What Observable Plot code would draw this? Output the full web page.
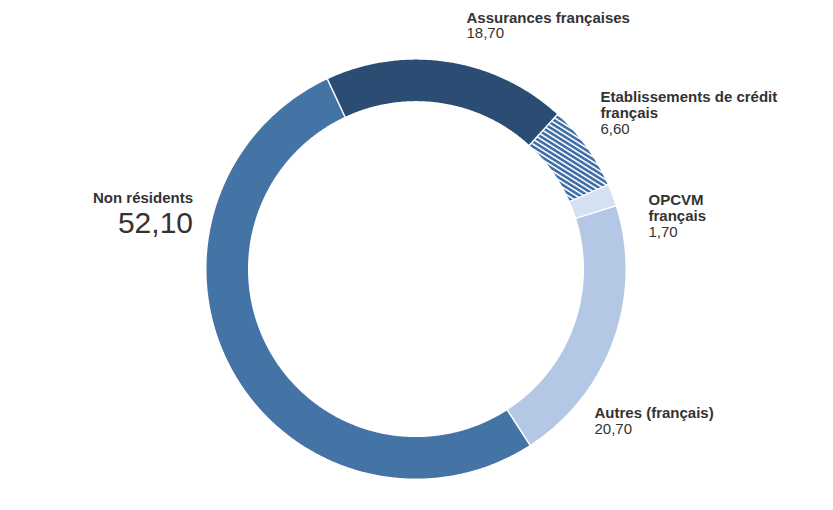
<!DOCTYPE html>
<html>
<head>
<meta charset="utf-8">
<script src="https://cdn.jsdelivr.net/npm/d3@7"></script>
<script src="https://cdn.jsdelivr.net/npm/@observablehq/plot@0.6"></script>
<style>
  html, body { margin: 0; padding: 0; background: #fff; }
  svg { display: block; }
</style>
</head>
<body>
<div id="chart"></div>
<script>
// ---- data ----
const categories = ["Assurances françaises", "Etablissements de crédit français", "OPCVM français", "Autres (français)", "Non résidents"];
const titleLines = ["Assurances françaises", "Etablissements de crédit\nfrançais", "OPCVM\nfrançais", "Autres (français)", "Non résidents"];
const values = [18.70, 6.60, 1.70, 20.70, 52.10];
const valueLabels = ["18,70", "6,60", "1,70", "20,70", "52,10"];

// ---- styles / layout (separate from data) ----
const sliceFills = ["#2c4d73", "url(#hatch)", "#d4e1f2", "#b4c8e5", "#4473a6"];
const startAngle = -25;          // degrees, clockwise from 12 o'clock
const outerR = 209.5, innerR = 168;
const cx = 415.5, cy = 268.6;    // centre in pixels
// label layout: x of anchor, baseline of first title line (pixels), text anchor
const labelLayout = [
  {x: 466, base: 21, anchor: "start", valueSize: 15},
  {x: 600, base: 100, anchor: "start", valueSize: 15},
  {x: 648, base: 203, anchor: "start", valueSize: 15},
  {x: 594, base: 416.7, anchor: "start", valueSize: 15},
  {x: 192.5, base: 201, anchor: "end", valueSize: 30}
];
const lineH = 16.7, titleSize = 15;

// ---- build slices ----
const total = d3.sum(values);
const rad = a => a * Math.PI / 180;
const polar = (r, a) => ({x: r * Math.sin(rad(a)), y: -r * Math.cos(rad(a))});
let acc = startAngle;
const slices = values.map((v, i) => {
  const a0 = acc, a1 = acc + v / total * 360;
  acc = a1;
  return {i, name: categories[i], a0, a1};
});
const ringPts = [];
for (const s of slices) {
  const n = Math.max(2, Math.ceil((s.a1 - s.a0) / 0.5));
  for (let k = 0; k <= n; k++) {
    const a = s.a0 + (s.a1 - s.a0) * k / n;
    ringPts.push({...polar(outerR, a), name: s.name, fill: sliceFills[s.i]});
  }
  for (let k = n; k >= 0; k--) {
    const a = s.a0 + (s.a1 - s.a0) * k / n;
    ringPts.push({...polar(innerR, a), name: s.name, fill: sliceFills[s.i]});
  }
}
const seps = slices.map(s => {
  const p = polar(innerR - 1, s.a0), q = polar(outerR + 1, s.a0);
  return {x1: p.x, y1: p.y, x2: q.x, y2: q.y};
});

const titles = titleLines.map((t, i) => ({
  text: t, x: labelLayout[i].x - cx, y: labelLayout[i].base - 0.71 * titleSize - cy, anchor: labelLayout[i].anchor
}));
const vals = valueLabels.map((t, i) => {
  const L = labelLayout[i];
  const nLines = titleLines[i].split("\n").length;
  const baseline = L.base + nLines * lineH + (L.valueSize > 20 ? 14.5 : 0);
  return {text: t, x: L.x - cx, y: baseline - 0.71 * L.valueSize - cy, anchor: L.anchor, size: L.valueSize};
});

const font = "'Liberation Sans', Arial, Helvetica, sans-serif";
const W = 833, H = 510;

const plot = Plot.plot({
  width: W, height: H,
  marginTop: 0, marginBottom: 0, marginLeft: 0, marginRight: 0,
  x: {domain: [-cx, W - cx], axis: null},
  y: {domain: [H - cy, -cy], axis: null},
  color: {type: "identity"},
  style: {fontFamily: font, background: "white"},
  marks: [
    Plot.line(ringPts, {x: "x", y: "y", z: "name", fill: "fill", stroke: "none", curve: "linear-closed"}),
    Plot.link(seps, {x1: "x1", y1: "y1", x2: "x2", y2: "y2", stroke: "white", strokeWidth: 1.5}),
    Plot.text(titles.filter(d => d.anchor === "start"), {x: "x", y: "y", text: "text", textAnchor: "start", lineAnchor: "top", lineHeight: lineH / titleSize, fontSize: titleSize, fontWeight: "bold", fill: "#333333"}),
    Plot.text(titles.filter(d => d.anchor === "end"), {x: "x", y: "y", text: "text", textAnchor: "end", lineAnchor: "top", lineHeight: lineH / titleSize, fontSize: titleSize, fontWeight: "bold", fill: "#333333"}),
    Plot.text(vals.filter(d => d.anchor === "start"), {x: "x", y: "y", text: "text", textAnchor: "start", lineAnchor: "top", fontSize: 15, fill: "#333333"}),
    Plot.text(vals.filter(d => d.anchor === "end"), {x: "x", y: "y", text: "text", textAnchor: "end", lineAnchor: "top", fontSize: 30, fill: "#333333"})
  ]
});

// hatch pattern for "Etablissements de crédit français"
const ns = "http://www.w3.org/2000/svg";
const defs = document.createElementNS(ns, "defs");
defs.innerHTML = `<pattern id="hatch" width="4.2" height="4.2" patternUnits="userSpaceOnUse" patternTransform="rotate(32)">
  <rect width="4.2" height="4.2" fill="white"></rect>
  <rect width="4.2" height="2.6" fill="#3f6fa8"></rect>
</pattern>`;
plot.insertBefore(defs, plot.firstChild);
document.getElementById("chart").appendChild(plot);
</script>
</body>
</html>
